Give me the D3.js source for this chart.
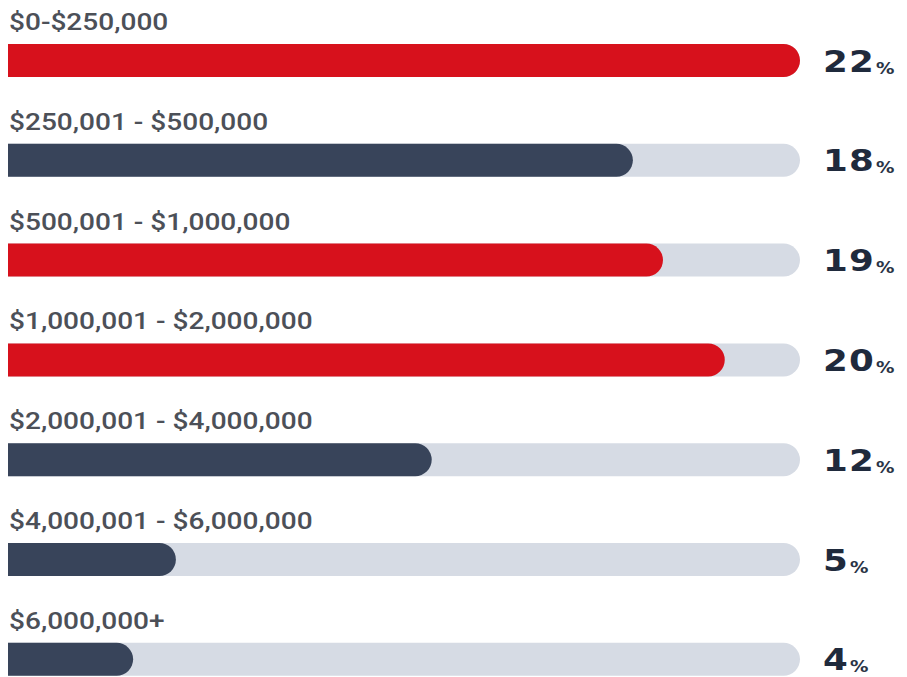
<!DOCTYPE html>
<html>
<head>
<meta charset="utf-8">
<script src="https://cdn.jsdelivr.net/npm/d3@7"></script>
<style>
  html, body { margin: 0; padding: 0; background: #ffffff; }
  svg { display: block; }
</style>
</head>
<body>
<svg id="chart" width="907" height="677"></svg>
<script>
// ---- data ----
const categories = [
  "$0-$250,000",
  "$250,001 - $500,000",
  "$500,001 - $1,000,000",
  "$1,000,001 - $2,000,000",
  "$2,000,001 - $4,000,000",
  "$4,000,001 - $6,000,000",
  "$6,000,000+"
];
const percentLabels = [22, 18, 19, 20, 12, 5, 4];
// filled share of each track (percent of track length)
const fillShare = [100, 78.9, 82.7, 90.5, 53.5, 21.2, 15.8];
const group = ["highlight", "base", "highlight", "highlight", "base", "base", "base"];

// ---- layout ----
const svg = d3.select("#chart");
const trackLeft = 8, trackRight = 800;
const barH = 33, labelSpace = 56, step = 99.8;
const rows = categories.map((c, i) => ({
  cat: c, pct: percentLabels[i], fill: fillShare[i], grp: group[i]
}));

const x = d3.scaleLinear().domain([0, 100]).range([trackLeft, trackRight]);
const y = d3.scaleBand().domain(categories)
  .range([44 - labelSpace, 44 - labelSpace + step * categories.length])
  .paddingInner(0).paddingOuter(0);
const color = d3.scaleOrdinal().domain(["highlight", "base"]).range(["#d7111c", "#38445a"]);

function barPath(x0, x1, top, h) {
  const r = h / 2;
  const xs = Math.max(x0, x1 - r);
  const p = d3.path();
  p.moveTo(x0, top);
  p.lineTo(xs, top);
  p.arc(xs, top + r, r, -Math.PI / 2, Math.PI / 2, false);
  p.lineTo(x0, top + h);
  p.closePath();
  return p.toString();
}

const g = svg.append("g");
const row = g.selectAll("g.row").data(rows).join("g").attr("class", "row");

// track
row.append("path")
  .attr("d", d => barPath(x(0), x(100), y(d.cat) + labelSpace, barH))
  .attr("fill", "#d6dbe4");

// fill
row.append("path")
  .attr("d", d => barPath(x(0), x(d.fill), y(d.cat) + labelSpace, barH))
  .attr("fill", d => color(d.grp));

// category label
row.append("text")
  .attr("transform", d => `translate(${trackLeft + 1},${y(d.cat) + labelSpace - 14}) scale(1.22,1)`)
  .attr("font-family", "Roboto, 'Noto Sans', sans-serif")
  .attr("font-size", 23)
  .attr("font-weight", 500)
  .attr("fill", "#4c5058")
  .text(d => d.cat);

// percent value
const pt = row.append("text")
  .attr("transform", d => `translate(823,${y(d.cat) + labelSpace + barH / 2 + 11}) scale(1.15,1)`)
  .attr("font-family", "'DejaVu Sans', sans-serif")
  .attr("font-weight", "bold")
  .attr("font-size", 31)
  .attr("letter-spacing", 1)
  .attr("fill", "#1f2a3c");
pt.append("tspan").text(d => d.pct);
pt.append("tspan")
  .attr("font-size", 16)
  .attr("dx", 1)
  .attr("dy", 2)
  .attr("fill", "#2a3446")
  .text("%");
</script>
</body>
</html>
